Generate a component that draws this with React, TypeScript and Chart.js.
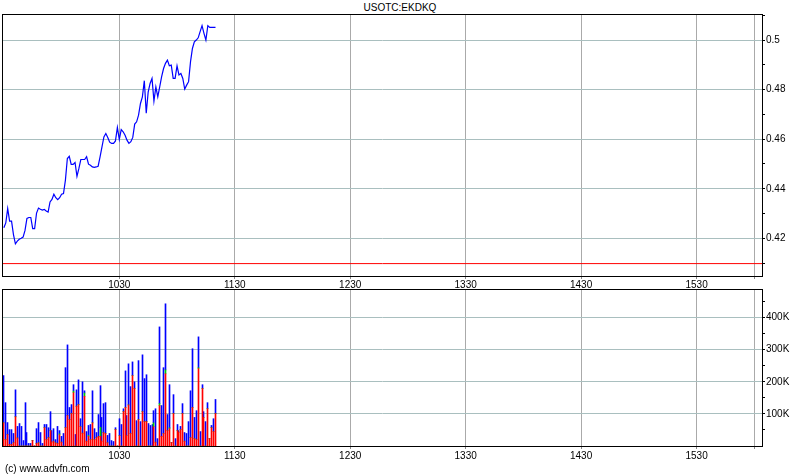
import React, { useEffect, useRef } from 'react';
import { Chart, registerables } from 'chart.js';

Chart.register(...registerables);

const chartTitle = 'USOTC:EKDKQ';
const footerText = '(c) www.advfn.com';

// minutes after 09:30
const timeTicks = [60, 120, 180, 240, 300, 360, 390];
const timeLabels = ['1030', '1130', '1230', '1330', '1430', '1530', ''];

const priceTicks = [0.41, 0.42, 0.43, 0.44, 0.45, 0.46, 0.47, 0.48, 0.49, 0.5, 0.51];
const priceLabels = ['', '0.42', '', '0.44', '', '0.46', '', '0.48', '', '0.5', ''];

const volTicks = [50, 100, 150, 200, 250, 300, 350, 400, 450];
const volLabels = ['', '100K', '', '200K', '', '300K', '', '400K', ''];

const prevClose = 0.4098;

// one price per minute from 09:30
const prices = [
  0.4243, 0.4262, 0.4320, 0.4269, 0.4269, 0.4215, 0.4178, 0.4189, 0.4196, 0.4200,
  0.4205, 0.4232, 0.4280, 0.4284, 0.4284, 0.4239, 0.4239, 0.4302, 0.4322, 0.4317,
  0.4314, 0.4317, 0.4310, 0.4306, 0.4347, 0.4357, 0.4378, 0.4364, 0.4356, 0.4364,
  0.4378, 0.4381, 0.4435, 0.4522, 0.4531, 0.4498, 0.4498, 0.4506, 0.4450, 0.4482,
  0.4518, 0.4518, 0.4518, 0.4529, 0.4499, 0.4495, 0.4488, 0.4486, 0.4488, 0.4491,
  0.4529, 0.4569, 0.4609, 0.4623, 0.4607, 0.4588, 0.4583, 0.4583, 0.4593, 0.4647,
  0.4599, 0.4639, 0.4630, 0.4616, 0.4596, 0.4583, 0.4590, 0.4607, 0.4661, 0.4670,
  0.4697, 0.4744, 0.4771, 0.4836, 0.4705, 0.4790, 0.4825, 0.4845, 0.4754, 0.4811,
  0.4771, 0.4811, 0.4852, 0.4885, 0.4906, 0.4919, 0.4896, 0.4899, 0.4845, 0.4845,
  0.4896, 0.4859, 0.4865, 0.4845, 0.4802, 0.4818, 0.4832, 0.4912, 0.4966, 0.4993,
  0.5000, 0.5009, 0.5034, 0.5058, 0.5027, 0.5000, 0.5058, 0.5051, 0.5051, 0.5051,
  0.5051,
];

// volume per minute, thousands of shares
const volTotal = [
  219, 135, 73, 51, 51, 39, 175, 61, 70, 61,
  17, 135, 42, 8, 8, 17, 0, 54, 73, 42,
  8, 67, 67, 57, 107, 48, 54, 20, 61, 48,
  30, 39, 244, 315, 120, 129, 191, 36, 175, 206,
  85, 200, 172, 45, 64, 67, 172, 54, 42, 98,
  188, 89, 132, 135, 33, 39, 17, 14, 57, 0,
  85, 67, 116, 234, 95, 256, 185, 262, 200, 79,
  266, 76, 284, 210, 222, 70, 64, 67, 110, 116,
  23, 371, 126, 244, 443, 98, 191, 11, 160, 23,
  67, 48, 61, 132, 42, 39, 76, 172, 303, 89,
  110, 340, 45, 191, 107, 76, 135, 23, 64, 85,
  145,
];
const volRed = [
  72, 20, 36, 5, 5, 10, 91, 25, 0, 0,
  0, 0, 0, 0, 0, 17, 0, 8, 10, 0,
  0, 57, 20, 26, 48, 12, 15, 10, 8, 35,
  12, 0, 57, 95, 82, 101, 166, 0, 124, 129,
  60, 40, 155, 15, 30, 20, 72, 20, 26, 30,
  30, 15, 42, 39, 10, 0, 0, 0, 51, 0,
  32, 0, 107, 120, 32, 128, 39, 219, 179, 0,
  82, 0, 107, 76, 76, 0, 0, 0, 60, 12,
  0, 126, 30, 39, 225, 48, 54, 11, 101, 0,
  48, 43, 51, 101, 15, 0, 0, 26, 120, 23,
  20, 241, 0, 179, 89, 0, 116, 23, 57, 45,
  101,
];
const volGreen = [
  0, 0, 0, 0, 0, 0, 0, 0, 0, 0,
  0, 0, 0, 0, 0, 0, 0, 0, 0, 0,
  0, 0, 0, 0, 0, 0, 0, 0, 0, 3,
  0, 0, 0, 0, 0, 0, 5, 0, 0, 0,
  0, 0, 10, 0, 3, 0, 0, 0, 0, 0,
  28, 0, 0, 0, 0, 0, 0, 0, 0, 0,
  0, 0, 0, 0, 0, 0, 0, 0, 0, 0,
  0, 0, 0, 0, 0, 0, 0, 0, 12, 0,
  0, 6, 0, 0, 12, 0, 3, 0, 0, 0,
  0, 0, 0, 0, 0, 0, 0, 0, 0, 0,
  0, 3, 0, 0, 0, 0, 0, 0, 0, 0,
  0,
];

const FONT = "'Liberation Sans Narrow','Arial Narrow','Liberation Sans',Arial,sans-serif";
const X_MIN = -0.44;
const X_MAX = 394;

const framePlugin = {
  id: 'frame',
  afterDraw(chart: any) {
    const { ctx, chartArea: a } = chart;
    ctx.save();
    ctx.strokeStyle = '#000';
    ctx.lineWidth = 1;
    ctx.strokeRect(a.left - 0.5, a.top - 0.5, a.right - a.left + 1, a.bottom - a.top + 1);
    ctx.restore();
  },
};

// snap 1px bars onto whole pixels so they render crisp
const crispBars = {
  id: 'crispBars',
  beforeDatasetsDraw(chart: any) {
    chart.data.datasets.forEach((_d: any, di: number) => {
      const meta = chart.getDatasetMeta(di);
      meta.data.forEach((el: any) => {
        el.x = Math.floor(el.x) + 0.5;
      });
    });
  },
};

function xScale(height: number, padding: number) {
  return {
    type: 'linear',
    min: X_MIN,
    max: X_MAX,
    offset: false,
    stacked: true,
    afterBuildTicks: (s: any) => {
      s.ticks = timeTicks.map((v) => ({ value: v }));
    },
    afterFit: (s: any) => {
      s.height = height;
      s.paddingLeft = 0;
      s.paddingRight = 0;
    },
    ticks: {
      autoSkip: false,
      maxRotation: 0,
      padding,
      color: '#000',
      font: { family: FONT, size: 10 },
      callback: (_v: any, i: number) => timeLabels[i],
    },
    grid: { color: '#aaaaaa', tickColor: '#888888', tickLength: 3, offset: false },
    border: { display: false },
  };
}

function yScale(min: number, max: number, ticks: number[], labels: string[]) {
  return {
    type: 'linear',
    position: 'right',
    min,
    max,
    stacked: true,
    afterBuildTicks: (s: any) => {
      s.ticks = ticks.map((v) => ({ value: v }));
    },
    afterFit: (s: any) => {
      s.width = 38;
      s.paddingTop = 0;
      s.paddingBottom = 0;
    },
    ticks: {
      autoSkip: false,
      padding: 1,
      color: '#000',
      font: { family: FONT, size: 10 },
      callback: (_v: any, i: number) => labels[i],
    },
    grid: {
      color: (c: any) => (labels[c.index] ? '#a9bfbf' : 'rgba(0,0,0,0)'),
      tickColor: '#000',
      tickLength: 3,
    },
    border: { display: false },
  };
}

export default function App() {
  const priceRef = useRef<HTMLCanvasElement>(null);
  const volRef = useRef<HTMLCanvasElement>(null);

  useEffect(() => {
    const priceData = prices.map((p, i) => ({ x: i, y: p }));
    const closeData = [
      { x: X_MIN, y: prevClose },
      { x: X_MAX, y: prevClose },
    ];
    const priceChart = new Chart(priceRef.current!, {
      type: 'line',
      data: {
        datasets: [
          {
            data: closeData,
            borderColor: '#ff0000',
            borderWidth: 1,
            pointRadius: 0,
          },
          {
            data: priceData,
            borderColor: '#0000ff',
            borderWidth: 1.2,
            pointRadius: 0,
            tension: 0,
          },
        ],
      },
      options: {
        responsive: false,
        animation: false,
        layout: { padding: { top: 15, left: 3, right: 0, bottom: 0 } },
        plugins: { legend: { display: false }, tooltip: { enabled: false }, title: { display: false } },
        scales: {
          x: { ...xScale(14, 0), stacked: false } as any,
          y: { ...yScale(0.4048, 0.5101, priceTicks, priceLabels), stacked: false } as any,
        },
      },
      plugins: [framePlugin],
    });

    const red = volRed.map((v, i) => ({ x: i, y: v }));
    const green = volGreen.map((v, i) => ({ x: i, y: v }));
    const blue = volTotal.map((v, i) => ({ x: i, y: Math.max(0, v - volRed[i] - volGreen[i]) }));
    const volChart = new Chart(volRef.current!, {
      type: 'bar',
      data: {
        datasets: [
          { data: red, backgroundColor: '#ff0000', barThickness: 1 },
          { data: green, backgroundColor: '#00cc00', barThickness: 1 },
          { data: blue, backgroundColor: '#0000ff', barThickness: 1 },
        ],
      },
      options: {
        responsive: false,
        animation: false,
        layout: { padding: { top: 2, left: 3, right: 0, bottom: 0 } },
        plugins: { legend: { display: false }, tooltip: { enabled: false } },
        scales: {
          x: xScale(29, 1) as any,
          y: yScale(0, 486, volTicks, volLabels) as any,
        },
      },
      plugins: [framePlugin, crispBars],
    });

    return () => {
      priceChart.destroy();
      volChart.destroy();
    };
  }, []);

  return (
    <div
      style={{
        position: 'fixed',
        left: 0,
        top: 0,
        width: 800,
        height: 475,
        background: '#fff',
        overflow: 'hidden',
        fontFamily: FONT,
      }}
    >
      <div
        style={{
          position: 'absolute',
          left: 0,
          top: 2,
          width: 800,
          textAlign: 'center',
          fontSize: 10,
          lineHeight: '12px',
          color: '#000',
        }}
      >
        {chartTitle}
      </div>
      <canvas
        ref={priceRef}
        width={800}
        height={290}
        style={{ position: 'absolute', left: 0, top: 0, display: 'block' }}
      />
      <canvas
        ref={volRef}
        width={800}
        height={187}
        style={{ position: 'absolute', left: 0, top: 288, display: 'block' }}
      />
      <div
        style={{
          position: 'absolute',
          left: 5,
          top: 463,
          fontSize: 10,
          lineHeight: '12px',
          color: '#000',
        }}
      >
        {footerText}
      </div>
    </div>
  );
}
